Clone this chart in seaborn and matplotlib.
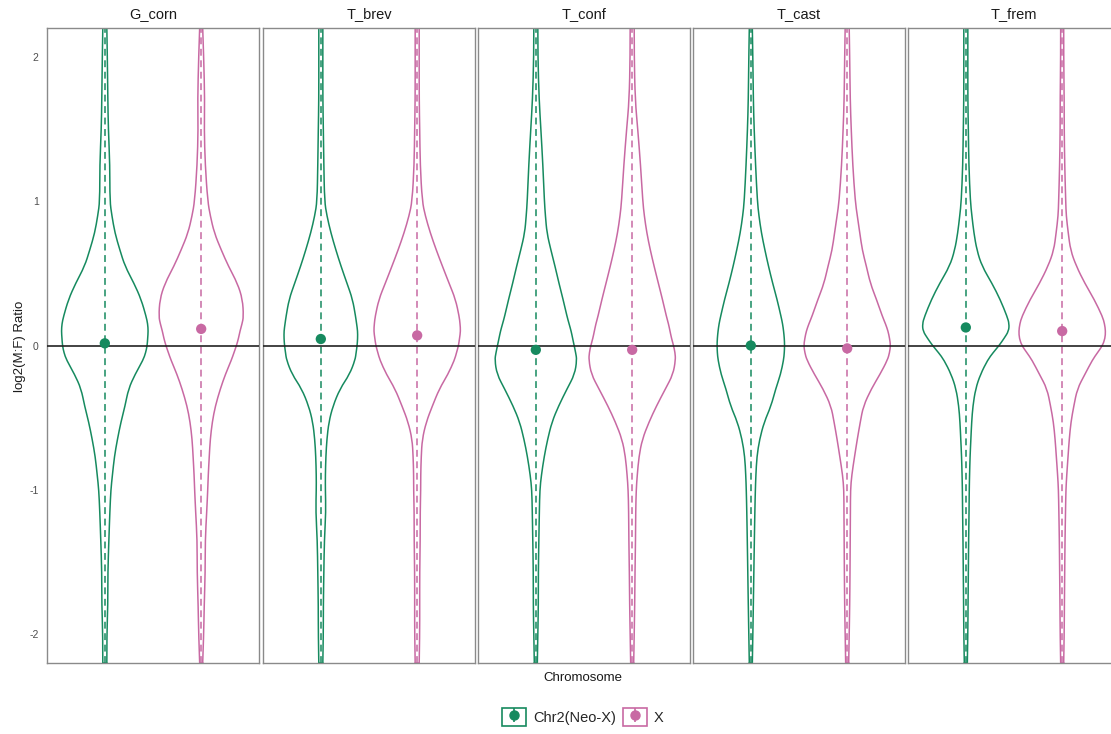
import numpy as np
import pandas as pd
import matplotlib
matplotlib.use("Agg")
import matplotlib.pyplot as plt
from matplotlib.lines import Line2D
from matplotlib.patches import Rectangle, PathPatch
from matplotlib.path import Path
from matplotlib.legend_handler import HandlerTuple
import seaborn as sns

# ---- data -----------------------------------------------------------------
species = ["G_corn", "T_brev", "T_conf", "T_cast", "T_frem"]
chromosomes = ["Chr2(Neo-X)", "X"]

# log2(M:F) levels at which the kernel density of each group was evaluated
y_levels = [2.2, 2.0, 1.7, 1.5, 1.25, 1.0, 0.9, 0.78, 0.66, 0.55, 0.43, 0.32,
            0.2, 0.15, 0.1, 0.05, 0.0, -0.05, -0.1, -0.2, -0.3, -0.42, -0.53,
            -0.65, -0.77, -0.9, -1.0, -1.15, -1.35, -1.57, -1.8, -2.0, -2.2]

# relative density of each group along y_levels
dens_G_corn_neo = [2, 2.5, 3, 3.5, 5, 5, 7, 10, 15, 20, 29, 36, 41, 42.5, 43, 42.5, 42,
                   40.5, 38, 30, 23.5, 20, 16, 12.5, 9.5, 7.5, 6, 5, 4, 3, 3, 2, 2]
dens_G_corn_x = [1.5, 2.5, 3.5, 3, 4, 6.5, 9, 13, 20, 27, 36, 41, 42, 40.5, 38.5, 37, 35,
                 32.5, 30, 24, 19, 14, 11, 9, 8, 7, 6.5, 5.5, 4, 4, 3, 2.5, 1.5]
dens_T_brev_neo = [2, 2, 2, 2.5, 3, 3.7, 6, 10, 15, 20, 26, 31.5, 34.5, 35.5, 36.5, 36.5, 36,
                   35, 34, 28.5, 19, 12, 8, 6, 5, 4.5, 4.5, 5, 3.5, 3, 2.5, 2.5, 2]
dens_T_brev_x = [2, 2, 2, 2.5, 3, 5, 8, 13, 19, 25, 31.7, 38, 41.7, 42.5, 43, 42, 41,
                 39, 37, 30.5, 22, 15, 9, 5, 4, 3.5, 3.5, 3, 3, 2.5, 2.5, 2.5, 2]
dens_T_conf_neo = [2, 2, 3.3, 5, 7, 8.5, 9.5, 11, 15, 19, 23, 27, 31, 33, 35, 36.5, 38,
                   39.5, 40.7, 38.5, 31, 22.5, 16, 11.7, 8.3, 5.5, 4, 3.5, 3, 2.5, 2.5, 2, 1.5]
dens_T_conf_x = [2, 2, 3, 5.5, 8.3, 10.5, 12, 14.5, 18, 21.7, 26, 30, 34, 36, 37.5, 39, 41,
                 42.5, 43, 40.5, 33, 24, 16.7, 10, 6.7, 5, 4, 3.5, 3.3, 2.8, 2.5, 2, 1.5]
dens_T_cast_neo = [1.5, 2, 2.5, 3.3, 4.7, 6.5, 8, 10.5, 14, 17.5, 21.7, 26, 30, 31.5, 32.5, 33.2,
                   33.5, 33.2, 32.5, 29.5, 24.7, 20, 13.3, 8.7, 6, 5, 4.5, 4, 3.5, 3, 2.5, 2, 1.5]
dens_T_cast_x = [2, 2.5, 3, 4, 5.5, 8, 10, 12.5, 15, 19, 23, 29, 35, 38, 40.5, 42, 43,
                 42, 40, 32.5, 24, 16, 13, 10, 7.3, 4.5, 3.3, 3.2, 3, 2.8, 2.5, 2, 1.5]
dens_T_frem_neo = [2, 2, 2, 2.5, 3, 4.5, 6, 8, 11, 16, 26, 34, 41, 43, 42.5, 38, 33,
                   27, 21.7, 14.5, 9.7, 7, 5.8, 5, 4.2, 3.7, 3.4, 3.2, 2.8, 2.5, 2.2, 2, 1.5]
dens_T_frem_x = [1.5, 1.5, 2, 2, 2.5, 3.5, 4, 6, 8.3, 14, 22.5, 31.7, 40, 42, 43, 42.5, 40,
                 35, 30, 22.5, 15, 11.5, 8.7, 7, 5.8, 4.5, 3.7, 3.3, 2.8, 2.5, 2.2, 2, 1.5]

# medians of log2(M:F) per species (Neo-X, X)
median_neo = [0.015, 0.045, -0.03, 0.0, 0.125]
median_x = [0.115, 0.07, -0.03, -0.02, 0.10]

densities = {
    "G_corn": (dens_G_corn_neo, dens_G_corn_x),
    "T_brev": (dens_T_brev_neo, dens_T_brev_x),
    "T_conf": (dens_T_conf_neo, dens_T_conf_x),
    "T_cast": (dens_T_cast_neo, dens_T_cast_x),
    "T_frem": (dens_T_frem_neo, dens_T_frem_x),
}

medians = pd.DataFrame({
    "species": np.repeat(species, 2),
    "chromosome": chromosomes * len(species),
    "median": np.ravel(np.column_stack([median_neo, median_x])),
})
medians["pos"] = medians["chromosome"].map({c: i + 1 for i, c in enumerate(chromosomes)})

# ---- style ----------------------------------------------------------------
sns.set_theme(style="white")
plt.rcParams["font.family"] = ["Liberation Sans", "DejaVu Sans"]

palette = {"Chr2(Neo-X)": "#168a5f", "X": "#c869a3"}
violin_width = 0.9
peak = max(max(v) for pair in densities.values() for v in pair)
scale = (violin_width / 2) / peak


def smooth_path(xs, ys):
    """Quadratic-Bezier path through the midpoints of the polyline (xs, ys)."""
    pts = np.column_stack([xs, ys])
    verts = [pts[0]]
    codes = [Path.MOVETO]
    for k in range(1, len(pts) - 1):
        mid = (pts[k] + pts[k + 1]) / 2
        if k == len(pts) - 2:
            mid = pts[k + 1]
        verts += [pts[k], mid]
        codes += [Path.CURVE3, Path.CURVE3]
    return Path(verts, codes)


def draw_violin(ax, x0, y, dens, color):
    hw = np.asarray(dens) * scale
    for side in (-1, 1):
        ax.add_patch(PathPatch(smooth_path(x0 + side * hw, y), fill=False,
                               edgecolor=color, lw=1.1, zorder=2))
    # caps at the trimmed ends
    for k in (0, -1):
        ax.plot([x0 - hw[k], x0 + hw[k]], [y[k], y[k]], color=color, lw=1.1, zorder=2)


W, H = 1111, 734
fig = plt.figure(figsize=(W / 100, H / 100), dpi=100)

panel_left = [47, 263, 478, 693, 908]
panel_w, top_px, bot_px = 212, 28, 663
y = np.array(y_levels)

for i, sp in enumerate(species):
    ax = fig.add_axes([panel_left[i] / W, 1 - bot_px / H, panel_w / W, (bot_px - top_px) / H])
    for j, chrom in enumerate(chromosomes):
        col = palette[chrom]
        x0 = j + 1
        draw_violin(ax, x0, y, densities[sp][j], col)
        # dashed range line through the centre
        ax.plot([x0, x0], [y.min(), y.max()], color=col, lw=1.1,
                dashes=(4.5, 3), zorder=2)
    ax.axhline(0, color="#222222", lw=1.2, zorder=3)
    sub = medians[medians["species"] == sp]
    sns.scatterplot(data=sub, x="pos", y="median", hue="chromosome", palette=palette,
                    s=55, edgecolor="none", legend=False, ax=ax, zorder=4)
    ax.set_xlim(0.4, 2.6)
    ax.set_ylim(-2.2, 2.2)
    ax.set_xticks([])
    ax.set_xlabel("")
    ax.set_ylabel("")
    ax.set_title(sp, fontsize=10.5, color="#1a1a1a", pad=7)
    for s in ax.spines.values():
        s.set_visible(True)
        s.set_color("#8a8a8a")
        s.set_linewidth(1.0)
    if i == 0:
        ax.set_yticks([-2, -1, 0, 1, 2])
        ax.set_yticklabels(["-2", "-1", "0", "1", "2"])
        ax.tick_params(axis="y", length=0, labelsize=7.5, labelcolor="#4d4d4d", pad=6)
    else:
        ax.set_yticks([])

fig.text(20 / W, 1 - 346 / H, "log2(M:F) Ratio", rotation=90, ha="center", va="center",
         fontsize=9.5, color="#1a1a1a")
fig.text(583 / W, 1 - 678 / H, "Chromosome", ha="center", va="center",
         fontsize=9.5, color="#1a1a1a")

# legend: outlined key boxes holding a point-range glyph
handles = []
for chrom in chromosomes:
    col = palette[chrom]
    box = Rectangle((0, 0), 1, 1, facecolor="white", edgecolor=col, lw=1.2)
    stem = Line2D([], [], color=col, marker="|", markersize=10, markeredgewidth=1.2, lw=0)
    dot = Line2D([], [], color=col, marker="o", markersize=6.5, lw=0)
    handles.append((box, stem, dot))
fig.legend(handles, chromosomes, loc="center", bbox_to_anchor=(583 / W, 1 - 717 / H),
           ncol=2, frameon=False, fontsize=10.5, handlelength=1.6, handleheight=1.6,
           handletextpad=0.5, columnspacing=0.5,
           handler_map={tuple: HandlerTuple(ndivide=1, pad=0)})

fig.savefig("out.png", dpi=100)
